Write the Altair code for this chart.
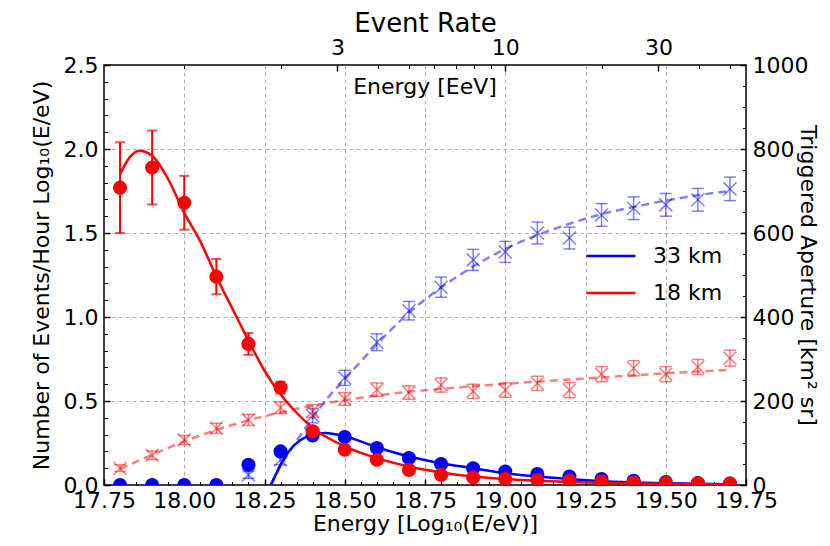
import math
import pandas as pd
import altair as alt

# ---------------- data ----------------
e_pts = [17.8, 17.9, 18.0, 18.1, 18.2, 18.3, 18.4, 18.5, 18.6, 18.7,
         18.8, 18.9, 19.0, 19.1, 19.2, 19.3, 19.4, 19.5, 19.6, 19.7]

# events / hour, 18 km (red) with errors
r18 = [1.77, 1.89, 1.68, 1.24, 0.84, 0.58, 0.32, 0.21, 0.15, 0.09,
       0.06, 0.045, 0.035, 0.03, 0.025, 0.02, 0.015, 0.012, 0.01, 0.008]
r18_err = [0.27, 0.22, 0.16, 0.105, 0.065, 0.035, 0.02, 0.015, 0.012, 0.01,
           0.008, 0.007, 0.006, 0.005, 0.004, 0.004, 0.003, 0.003, 0.003, 0.002]

# events / hour, 33 km (blue)
b33 = [0.0, 0.0, 0.0, 0.0, 0.12, 0.20, 0.295, 0.285, 0.22, 0.16,
       0.125, 0.10, 0.08, 0.065, 0.05, 0.035, 0.025, 0.018, 0.012, 0.008]

# fitted event-rate curves
fit18_x = [17.80, 17.83, 17.86, 17.90, 17.95, 18.00, 18.05, 18.10, 18.15, 18.20,
           18.25, 18.30, 18.35, 18.40, 18.50, 18.60, 18.70, 18.80, 18.90, 19.00,
           19.20, 19.40, 19.70]
fit18_y = [1.85, 1.95, 1.99, 1.96, 1.82, 1.62, 1.45, 1.24, 1.05, 0.86,
           0.68, 0.54, 0.43, 0.34, 0.23, 0.16, 0.11, 0.075, 0.05, 0.035,
           0.018, 0.009, 0.003]
fit33_x = [18.27, 18.30, 18.33, 18.36, 18.40, 18.44, 18.50, 18.60, 18.70, 18.80,
           18.90, 19.00, 19.10, 19.20, 19.30, 19.40, 19.50, 19.60, 19.70]
fit33_y = [0.0, 0.12, 0.21, 0.265, 0.30, 0.31, 0.29, 0.225, 0.17, 0.13,
           0.10, 0.07, 0.05, 0.035, 0.022, 0.015, 0.01, 0.007, 0.005]

# triggered aperture [km^2 sr]
ap18 = [40, 71, 107, 135, 155, 184, 176, 205, 227, 220,
        238, 223, 226, 242, 226, 264, 278, 264, 281, 302]
ap18_err = [8, 10, 11, 12, 13, 14, 15, 15, 16, 16,
            17, 17, 17, 17, 18, 18, 18, 18, 18, 19]
e_ap33 = [18.2, 18.3, 18.4, 18.5, 18.6, 18.7, 18.8, 18.9, 19.0, 19.1,
          19.2, 19.3, 19.4, 19.5, 19.6, 19.7]
ap33 = [24, 60, 165, 255, 340, 415, 471, 536, 555, 600,
        588, 643, 659, 667, 679, 705]
ap33_err = [8, 12, 17, 18, 20, 22, 24, 25, 25, 26,
            26, 27, 27, 27, 27, 28]

# fitted aperture curves
afit18_x = e_pts
afit18_y = [38, 72, 104, 131, 154, 173, 189, 202, 213, 222,
            229, 235, 241, 246, 251, 256, 261, 266, 270, 274]
afit33_x = [18.27, 18.30, 18.35, 18.40, 18.45, 18.50, 18.60, 18.70, 18.80, 18.90,
            19.00, 19.10, 19.20, 19.30, 19.40, 19.50, 19.60, 19.70]
afit33_y = [0, 45, 105, 160, 210, 252, 335, 410, 470, 520,
            562, 595, 622, 645, 662, 677, 690, 700]

# axis ticks
bottom_major = [17.75, 18.0, 18.25, 18.5, 18.75, 19.0, 19.25, 19.5, 19.75]
bottom_minor = [17.8, 17.85, 17.9, 17.95, 18.05, 18.1, 18.15, 18.2, 18.3, 18.35,
                18.4, 18.45, 18.55, 18.6, 18.65, 18.7, 18.8, 18.85, 18.9, 18.95,
                19.05, 19.1, 19.15, 19.2, 19.3, 19.35, 19.4, 19.45, 19.55, 19.6,
                19.65, 19.7]
left_major = [0.0, 0.5, 1.0, 1.5, 2.0, 2.5]
left_minor = [0.1, 0.2, 0.3, 0.4, 0.6, 0.7, 0.8, 0.9, 1.1, 1.2, 1.3, 1.4,
              1.6, 1.7, 1.8, 1.9, 2.1, 2.2, 2.3, 2.4]
right_major = [0, 200, 400, 600, 800, 1000]
right_minor = [50, 100, 150, 250, 300, 350, 450, 500, 550, 650, 700, 750, 850, 900, 950]
top_major_eev = [3, 10, 30]
top_minor_eev = [1, 2, 4, 5, 6, 7, 8, 9, 20, 40, 50]
grid_x = [18.0, 18.25, 18.5, 18.75, 19.0, 19.25, 19.5]
grid_y = [0.5, 1.0, 1.5, 2.0]

RED = "#ff0000"
BLUE = "#0000ff"
FONT = "DejaVu Sans"

# ---------------- tables ----------------
ev = pd.DataFrame({"e": e_pts, "r18": r18, "b33": b33,
                   "lo": [v - s for v, s in zip(r18, r18_err)],
                   "hi": [v + s for v, s in zip(r18, r18_err)]})
fits = pd.concat([
    pd.DataFrame({"e": fit33_x, "v": fit33_y, "det": "33 km"}),
    pd.DataFrame({"e": fit18_x, "v": fit18_y, "det": "18 km"}),
])
ap_r = pd.DataFrame({"e": e_pts, "a": ap18,
                     "lo": [v - s for v, s in zip(ap18, ap18_err)],
                     "hi": [v + s for v, s in zip(ap18, ap18_err)]})
ap_b = pd.DataFrame({"e": e_ap33, "a": ap33,
                     "lo": [v - s for v, s in zip(ap33, ap33_err)],
                     "hi": [v + s for v, s in zip(ap33, ap33_err)]})
af_r = pd.DataFrame({"e": afit18_x, "a": afit18_y})
af_b = pd.DataFrame({"e": afit33_x, "a": afit33_y})

xs = alt.Scale(domain=[17.75, 19.75], nice=False, zero=False)
yl = alt.Scale(domain=[0, 2.5], nice=False, zero=False)
yr = alt.Scale(domain=[0, 1000], nice=False, zero=False)


def X(f="e"):
    return alt.X(f"{f}:Q", scale=xs, axis=None)


def YL(f):
    return alt.Y(f"{f}:Q", scale=yl, axis=None)


def YR(f):
    return alt.Y(f"{f}:Q", scale=yr, axis=None)


XMARK = "M-1,-1L1,1M1,-1L-1,1"
layers = []

# grid carrier
layers.append(alt.Chart(ev).mark_point(opacity=0).encode(
    x=alt.X("e:Q", scale=xs, axis=alt.Axis(orient="bottom", values=grid_x, grid=True,
            ticks=False, labels=False, domain=False, title=None,
            gridDash=[4, 3], gridColor="#b0b0b0", gridWidth=1)),
    y=alt.Y("r18:Q", scale=yl, axis=alt.Axis(orient="left", values=grid_y, grid=True,
            ticks=False, labels=False, domain=False, title=None,
            gridDash=[4, 3], gridColor="#b0b0b0", gridWidth=1)),
))

# aperture fitted curves (dashed, translucent)
layers.append(alt.Chart(af_b).mark_line(color=BLUE, opacity=0.5, strokeWidth=2.5,
                                        strokeDash=[8, 5], interpolate="monotone", clip=True)
              .encode(x=X(), y=YR("a")))
layers.append(alt.Chart(af_r).mark_line(color=RED, opacity=0.5, strokeWidth=2.5,
                                        strokeDash=[8, 5], interpolate="monotone", clip=True)
              .encode(x=X(), y=YR("a")))

# event-rate fits (legend)
layers.append(alt.Chart(fits).mark_line(strokeWidth=2.5, interpolate="monotone", clip=True).encode(
    x=X(), y=YL("v"),
    color=alt.Color("det:N", scale=alt.Scale(domain=["33 km", "18 km"], range=[BLUE, RED]),
                    legend=alt.Legend(orient="none", legendX=481, legendY=165, title=None,
                                      symbolType="stroke", symbolSize=2400,
                                      symbolStrokeWidth=2.5, labelFontSize=22,
                                      labelFont=FONT, labelOffset=16, rowPadding=-27,
                                      padding=0)),
    detail="det:N",
))

# blue event points
layers.append(alt.Chart(ev).mark_circle(color=BLUE, size=200, opacity=1, clip=True)
              .encode(x=X(), y=YL("b33")))
# red event error bars + caps + points
layers.append(alt.Chart(ev).mark_rule(color=RED, strokeWidth=2, clip=True)
              .encode(x=X(), y=YL("lo"), y2="hi:Q"))
layers.append(alt.Chart(ev).mark_tick(color=RED, orient="horizontal", size=10, thickness=2, clip=True)
              .encode(x=X(), y=YL("lo")))
layers.append(alt.Chart(ev).mark_tick(color=RED, orient="horizontal", size=10, thickness=2, clip=True)
              .encode(x=X(), y=YL("hi")))
layers.append(alt.Chart(ev).mark_circle(color=RED, size=200, opacity=1, clip=True)
              .encode(x=X(), y=YL("r18")))

# aperture points with error bars
for df, col in [(ap_b, BLUE), (ap_r, RED)]:
    layers.append(alt.Chart(df).mark_rule(color=col, opacity=0.5, strokeWidth=1.5, clip=True)
                  .encode(x=X(), y=YR("lo"), y2="hi:Q"))
    layers.append(alt.Chart(df).mark_tick(color=col, opacity=0.5, orient="horizontal", size=12,
                                          thickness=1.5, clip=True)
                  .encode(x=X(), y=YR("lo")))
    layers.append(alt.Chart(df).mark_tick(color=col, opacity=0.5, orient="horizontal", size=12,
                                          thickness=1.5, clip=True)
                  .encode(x=X(), y=YR("hi")))
    layers.append(alt.Chart(df).mark_point(shape=XMARK, filled=False, color=col, opacity=0.5,
                                           strokeWidth=1.5, size=170, clip=True)
                  .encode(x=X(), y=YR("a")))

# inner top label
layers.append(alt.Chart(pd.DataFrame({"t": ["Energy [EeV]"]})).mark_text(
    fontSize=22, font=FONT, baseline="middle", align="center", color="black").encode(
    text="t:N", x=alt.value(321), y=alt.value(22)))

# axis carriers (inward ticks via negative offset)
AXC = dict(domain=False, tickColor="black", labelColor="black", labelFont=FONT,
           labelFontSize=22, labelFlush=False, labelOverlap=False, titleFont=FONT,
           titleColor="black", titleFontWeight="normal", grid=False)

ax_bottom_major = alt.Axis(orient="bottom", values=bottom_major, format=".2f", offset=-6,
                           tickSize=6, tickWidth=1.5, labelPadding=5,
                           title="Energy [Log₁₀(E/eV)]", titleFontSize=22, titlePadding=2, **AXC)
ax_bottom_minor = alt.Axis(orient="bottom", values=bottom_minor, offset=-3.5, tickSize=3.5,
                           tickWidth=1, labels=False, title=None, **AXC)
ax_left_major = alt.Axis(orient="left", values=left_major, format=".1f", offset=-6,
                         tickSize=6, tickWidth=1.5, labelPadding=6,
                         title="Number of Events/Hour Log₁₀(E/eV)", titleFontSize=22,
                         titlePadding=10, **AXC)
ax_left_minor = alt.Axis(orient="left", values=left_minor, offset=-3.5, tickSize=3.5,
                         tickWidth=1, labels=False, title=None, **AXC)
ax_top_major = alt.Axis(orient="top", values=[18 + math.log10(v) for v in top_major_eev],
                        labelExpr="format(pow(10, datum.value - 18), '.0f')", offset=-6,
                        tickSize=6, tickWidth=1.5, labelPadding=6,
                        title="Event Rate", titleFontSize=26, titlePadding=0, **AXC)
ax_top_minor = alt.Axis(orient="top", values=[18 + math.log10(v) for v in top_minor_eev],
                        offset=-3.5, tickSize=3.5, tickWidth=1, labels=False, title=None, **AXC)
ax_right_major = alt.Axis(orient="right", values=right_major, format="d", offset=-6,
                          tickSize=6, tickWidth=1.5, labelPadding=6,
                          title="Triggered Aperture [km² sr]", titleFontSize=22,
                          titlePadding=-12, **AXC)
ax_right_minor = alt.Axis(orient="right", values=right_minor, offset=-3.5, tickSize=3.5,
                          tickWidth=1, labels=False, title=None, **AXC)

for axx, axy, ysc in [(ax_bottom_major, ax_left_major, yl),
                      (ax_bottom_minor, ax_left_minor, yl),
                      (ax_top_major, ax_right_major, yr),
                      (ax_top_minor, ax_right_minor, yr)]:
    layers.append(alt.Chart(ev).mark_point(opacity=0).encode(
        x=alt.X("e:Q", scale=xs, axis=axx),
        y=alt.Y("b33:Q", scale=ysc, axis=axy),
    ))

chart = (alt.layer(*layers)
         .resolve_scale(y="independent")
         .resolve_axis(x="independent", y="independent")
         .properties(width=642, height=420,
                     autosize=alt.AutoSizeParams(type="none"),
                     padding={"left": 96, "top": 57, "right": 76, "bottom": 52})
         .configure(font=FONT)
         .configure_view(stroke="black", strokeWidth=1.5))

chart.save("out.html", embed_options={"renderer": "svg", "actions": False})
